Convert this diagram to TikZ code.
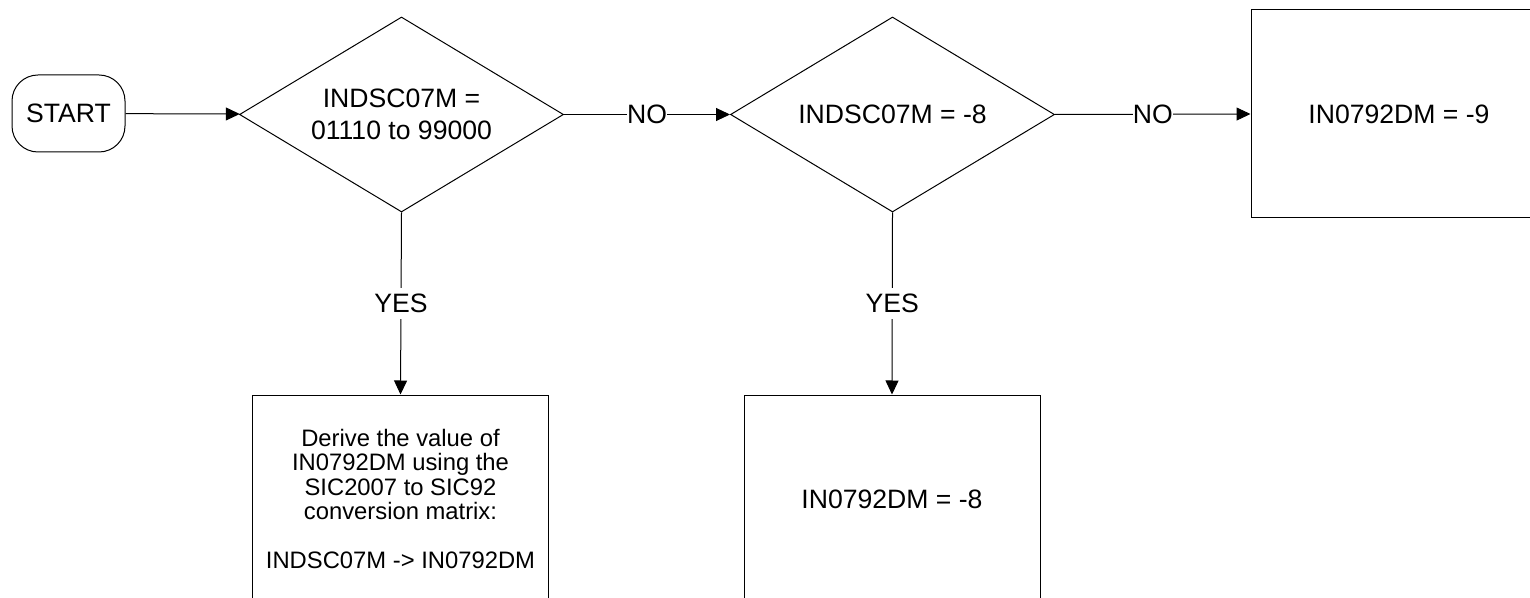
\documentclass[tikz,border=0pt]{standalone}
\usepackage{fontspec}
\setmainfont{Liberation Sans}
\usetikzlibrary{arrows.meta,shapes.geometric}

\begin{document}
\begin{tikzpicture}[x=0.5pt,y=-0.5pt,line width=0.5pt,>={Triangle[length=7pt,width=6.5pt]},
  font=\fontsize{13.3}{16}\selectfont,
  terminal/.style={draw,rounded corners=13pt,minimum width=56.5pt,minimum height=38.5pt,inner sep=0pt},
  decision/.style={draw,diamond,aspect=1.66,minimum width=162pt,minimum height=97.5pt,inner sep=0pt,align=center},
  outcome/.style={draw,rectangle,minimum width=148pt,minimum height=104pt,inner sep=0pt,align=center},
  branch/.style={fill=white,inner xsep=0pt,inner ysep=3pt}]
\useasboundingbox (0,0) rectangle (1530,598);
\clip (0,0) rectangle (1530,598);
% start and decisions
\node[terminal] (start) at (68.5,113.5) {START};
\node[decision] (range) at (401.5,114.5) {INDSC07M =\\01110 to 99000};
\node[decision] (minus8) at (892.5,114.5) {INDSC07M = -8};
% results
\node[outcome,font=\fontsize{11.9}{12.25}\selectfont] (derive) at (400.5,499) {Derive the value of\\IN0792DM using the\\SIC2007 to SIC92\\conversion matrix:\\[12.25pt]INDSC07M -> IN0792DM};
\node[outcome] (setm8) at (892,499) {IN0792DM = -8};
\node[outcome] (setm9) at (1399,114) {IN0792DM = -9};
% connectors
\draw[->] (start) -- (range);
\draw[->] (range.east) -- node[branch] {NO} (minus8.west);
\draw[->] (minus8.east) -- node[branch] {NO} (setm9.west);
\draw[->] (range.south) -- node[branch] {YES} (derive.north);
\draw[->] (minus8.south) -- node[branch] {YES} (setm8.north);
\end{tikzpicture}
\end{document}
